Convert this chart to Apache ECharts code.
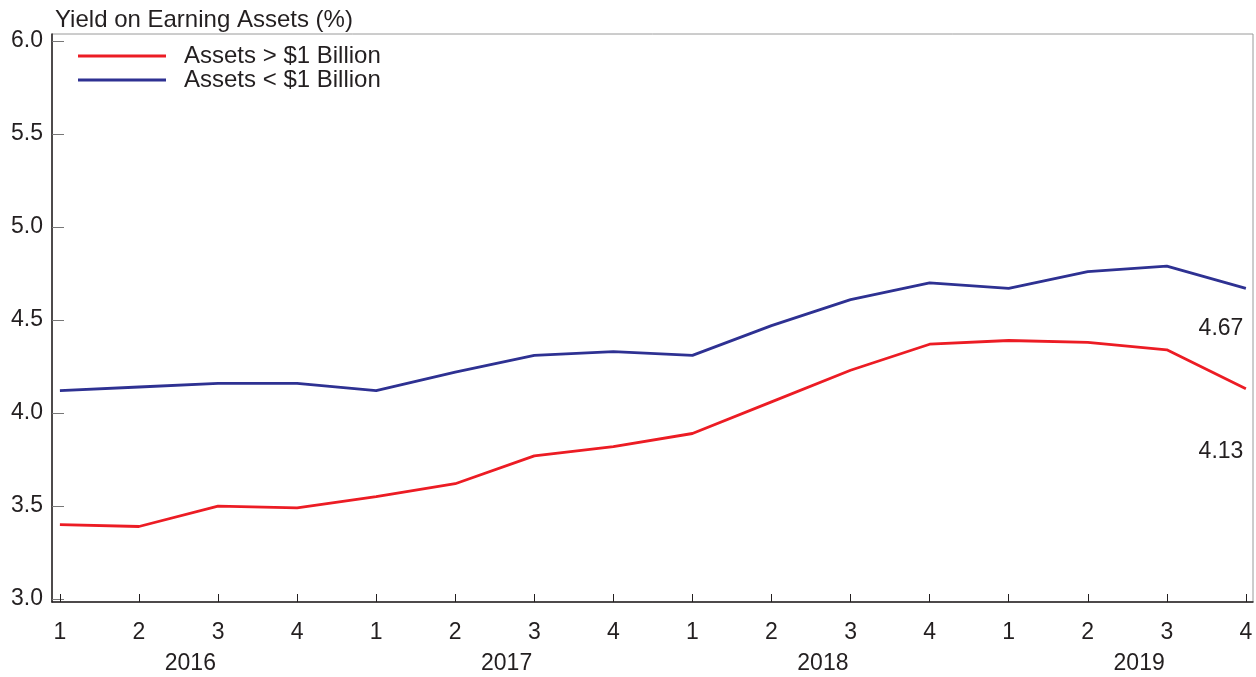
<!DOCTYPE html>
<html>
<head>
<meta charset="utf-8">
<script src="https://cdn.jsdelivr.net/npm/echarts@6/dist/echarts.min.js"></script>
<style>html,body{margin:0;padding:0;background:#fff}#c{width:1256px;height:677px}</style>
</head>
<body>
<div id="c"></div>
<script>
const quarters = ['1','2','3','4','1','2','3','4','1','2','3','4','1','2','3','4'];
const years = ['2016','2017','2018','2019'];
const yTicks = [3.0, 3.5, 4.0, 4.5, 5.0, 5.5, 6.0];
const seriesNames = ['Assets > $1 Billion', 'Assets < $1 Billion'];
const large = [3.40,3.39,3.50,3.49,3.55,3.62,3.77,3.82,3.89,4.06,4.23,4.37,4.39,4.38,4.34,4.13];
const small = [4.12,4.14,4.16,4.16,4.12,4.22,4.31,4.33,4.31,4.47,4.61,4.70,4.67,4.76,4.79,4.67];
const endLabels = ['4.13', '4.67'];

const font = "'Liberation Sans', Arial, Helvetica, sans-serif";
const fs = 23;
const fsBig = 24;
const ink = '#231f20';
const chart = echarts.init(document.getElementById('c'), null, {renderer: 'canvas'});
const idx = quarters.map((q, i) => i);
const yearPos = years.map((y, i) => i * 4 + 1.65);
const last = large.length - 1;

function endMark(val, text, dy) {
  return {
    symbol: 'rect', symbolSize: 1, silent: true,
    itemStyle: {color: 'rgba(0,0,0,0)'},
    data: [{coord: [last, val], value: text}],
    label: {show: true, formatter: text, position: 'left', align: 'right', verticalAlign: 'middle',
      offset: [3, dy], fontFamily: font, fontSize: fs, color: ink}
  };
}

chart.setOption({
  animation: false,
  backgroundColor: '#fff',
  title: {
    text: 'Yield on Earning Assets (%)',
    left: 50, top: 3,
    textStyle: {fontFamily: font, fontSize: fsBig, fontWeight: 'normal', color: ink}
  },
  grid: {left: 52, right: 3, top: 34, bottom: 75, show: true, borderColor: '#9a9a9a', borderWidth: 1},
  legend: {
    orient: 'vertical', left: 78, top: 44, padding: 0,
    icon: 'rect', itemWidth: 88, itemHeight: 3, itemGap: 0,
    textStyle: {fontFamily: font, fontSize: fsBig, color: ink, padding: [0, 0, 0, 13], lineHeight: 24},
    data: seriesNames
  },
  xAxis: [{
    type: 'value', min: -0.1, max: 15.09,
    axisLine: {show: true, onZero: false, lineStyle: {color: ink, width: 1.5}},
    axisTick: {show: true, inside: true, length: 8, customValues: idx, lineStyle: {color: ink}},
    axisLabel: {show: true, customValues: idx, margin: 19, fontFamily: font, fontSize: fs, color: ink,
      formatter: v => quarters[Math.round(v)]},
    splitLine: {show: false}
  }, {
    type: 'value', min: -0.1, max: 15.09, position: 'bottom', offset: 31,
    axisLine: {show: false}, axisTick: {show: false}, splitLine: {show: false},
    axisLabel: {show: true, customValues: yearPos, margin: 19, fontFamily: font, fontSize: fs, color: ink,
      formatter: v => years[Math.round((v - 1.65) / 4)]}
  }],
  yAxis: {
    type: 'value', min: 2.984, max: 6.038,
    axisLine: {show: true, onZero: false, lineStyle: {color: ink, width: 1.5}},
    axisTick: {show: true, inside: true, length: 12, customValues: yTicks, lineStyle: {color: '#777'}},
    axisLabel: {show: true, customValues: yTicks, margin: 9, fontFamily: font, fontSize: fs, color: ink,
      padding: [4, 0, 0, 0], formatter: v => v.toFixed(1)},
    splitLine: {show: false}
  },
  series: [{
    name: seriesNames[0], type: 'line', symbol: 'none',
    data: large.map((v, i) => [i, v]),
    lineStyle: {color: '#ec1c24', width: 2.8}, itemStyle: {color: '#ec1c24'},
    markPoint: endMark(large[last], endLabels[0], 63)
  }, {
    name: seriesNames[1], type: 'line', symbol: 'none',
    data: small.map((v, i) => [i, v]),
    lineStyle: {color: '#2e3192', width: 2.8}, itemStyle: {color: '#2e3192'},
    markPoint: endMark(small[last], endLabels[1], 40)
  }]
});
</script>
</body>
</html>
